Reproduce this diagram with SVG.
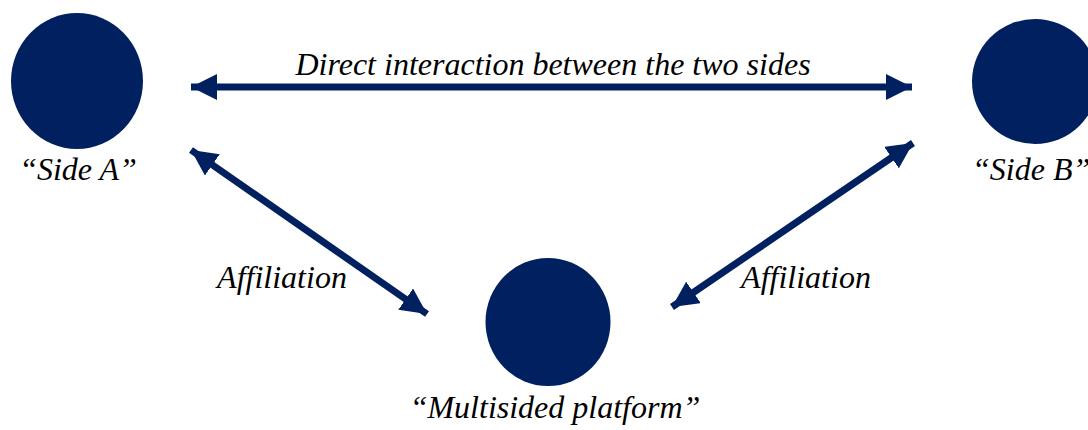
<svg xmlns="http://www.w3.org/2000/svg" width="1088" height="430" viewBox="0 0 1088 430">
<style>
.node{fill:#002060}
.lbl{font-family:"Liberation Serif","Times New Roman",serif;font-style:italic;font-size:32px;fill:#000;text-anchor:middle}
.conn{stroke:#002060;stroke-width:7;fill:none}
</style>
<defs>
<marker id="ah" markerUnits="userSpaceOnUse" viewBox="0 0 26 26" refX="26" refY="13" markerWidth="26" markerHeight="26" orient="auto-start-reverse">
<path d="M0,0 L26,13 L0,26 Z" fill="#002060"/>
</marker>
</defs>
<rect width="1088" height="430" fill="#fff"/>
<g id="connectors">
<line class="conn" x1="191" y1="87" x2="912" y2="87" marker-start="url(#ah)" marker-end="url(#ah)"/>
<line class="conn" x1="191" y1="150" x2="427" y2="314" marker-start="url(#ah)" marker-end="url(#ah)"/>
<line class="conn" x1="913" y1="143" x2="672" y2="307" marker-start="url(#ah)" marker-end="url(#ah)"/>
<text class="lbl" x="553" y="75">Direct interaction between the two sides</text>
<text class="lbl" x="282" y="288">Affiliation</text>
<text class="lbl" x="806" y="288">Affiliation</text>
</g>
<g id="sideA">
<ellipse class="node" cx="77" cy="81" rx="66" ry="68"/>
<text class="lbl" x="78" y="180">“Side A”</text>
</g>
<g id="sideB">
<ellipse class="node" cx="1035" cy="81.5" rx="63" ry="62.5"/>
<text class="lbl" x="972" y="180" style="text-anchor:start">“Side B”</text>
</g>
<g id="platform">
<ellipse class="node" cx="548" cy="322" rx="62.5" ry="64"/>
<text class="lbl" x="555" y="418">“Multisided platform”</text>
</g>
</svg>
